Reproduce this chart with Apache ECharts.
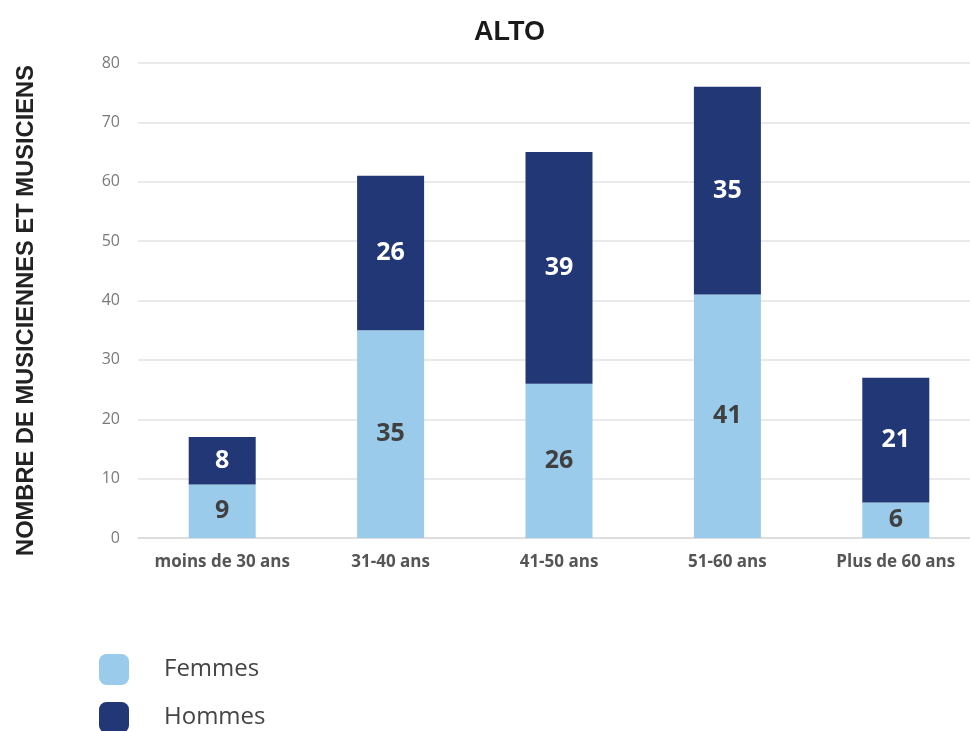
<!DOCTYPE html>
<html><head><meta charset="utf-8">
<script src="https://cdn.jsdelivr.net/npm/echarts@6/dist/echarts.min.js"></script>
<style>html,body{margin:0;padding:0;background:#fff}#c{width:970px;height:731px}</style>
</head><body><div id="c"></div>
<script>
const categories = ['moins de 30 ans', '31-40 ans', '41-50 ans', '51-60 ans', 'Plus de 60 ans'];
const femmes = [9, 35, 26, 41, 6];
const hommes = [8, 26, 39, 35, 21];
const yTicks = [0, 10, 20, 30, 40, 50, 60, 70, 80];

const legendCommon = {
  orient: 'vertical', left: 94,
  itemWidth: 30, itemHeight: 31, itemGap: 10,
  icon: 'roundRect',
  textStyle: { fontFamily: 'Open Sans', fontSize: 24, color: '#444', padding: [0, 0, 0, 30] }
};

const chart = echarts.init(document.getElementById('c'));
chart.setOption({
  animation: false,
  title: {
    text: 'ALTO', left: 469, top: 14,
    textStyle: { fontFamily: 'Liberation Sans', fontWeight: 'bold', fontSize: 27, color: '#1a1a1a' }
  },
  legend: [
    Object.assign({}, legendCommon, { top: 649, data: ['Femmes'] }),
    Object.assign({}, legendCommon, { top: 697, data: ['Hommes'] })
  ],
  grid: { left: 138, width: 842, top: 63, bottom: 193, containLabel: false, outerBoundsMode: 'none' },
  xAxis: {
    type: 'category', data: categories,
    axisLine: { lineStyle: { color: '#d9d9d9', width: 1.5 } },
    axisTick: { show: false },
    axisLabel: { interval: 0, margin: 16, fontFamily: 'Open Sans', fontWeight: 'bold', fontSize: 17, color: '#555' }
  },
  yAxis: {
    type: 'value', min: yTicks[0], max: yTicks[yTicks.length - 1], interval: 10,
    name: 'NOMBRE DE MUSICIENNES ET MUSICIENS', nameLocation: 'middle', nameGap: 100, nameRotate: 90,
    nameTextStyle: { fontFamily: 'Liberation Sans', fontWeight: 'bold', fontSize: 23.7, color: '#222', padding: [0, 20, 0, 0] },
    axisLine: { show: false }, axisTick: { show: false },
    axisLabel: { margin: 18, fontFamily: 'Open Sans', fontSize: 16, color: '#7a7a7a' },
    splitLine: { lineStyle: { color: '#e3e3e3', width: 1.5 } }
  },
  series: [
    {
      name: 'Femmes', type: 'bar', stack: 's', data: femmes, barWidth: 67,
      itemStyle: { color: '#9ACBEB' },
      label: { show: true, position: 'inside', fontFamily: 'Open Sans', fontWeight: 'bold', fontSize: 25, color: '#404040' }
    },
    {
      name: 'Hommes', type: 'bar', stack: 's', data: hommes, barWidth: 67,
      itemStyle: { color: '#223775' },
      label: { show: true, position: 'inside', fontFamily: 'Open Sans', fontWeight: 'bold', fontSize: 25, color: '#ffffff' }
    }
  ]
});
</script></body></html>
